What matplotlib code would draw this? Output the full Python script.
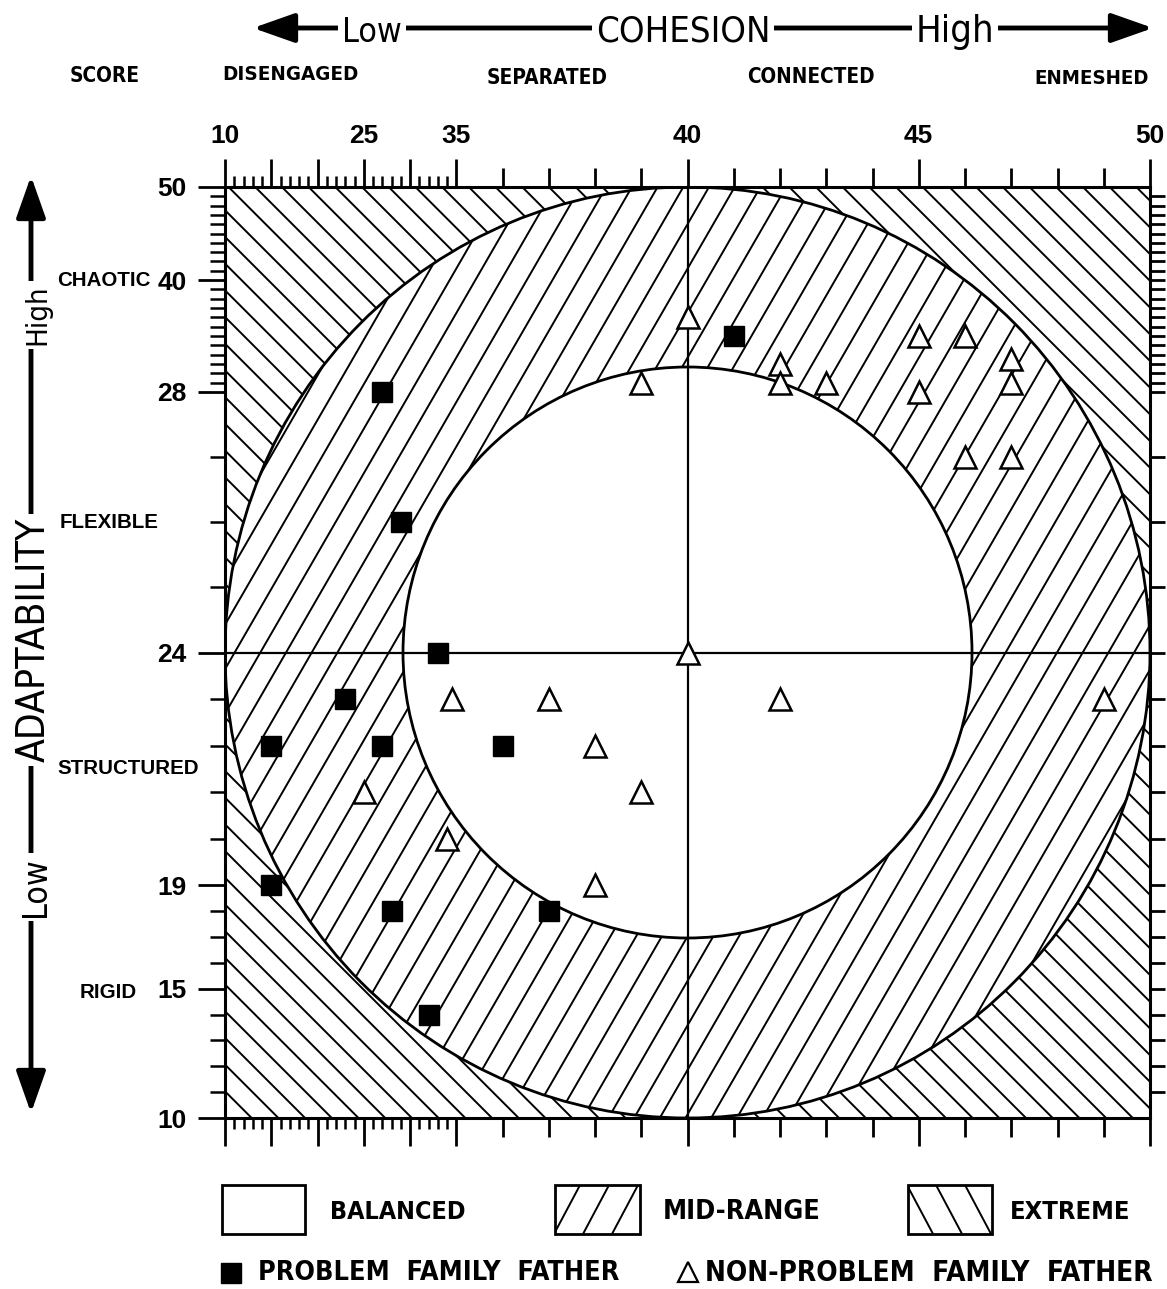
import numpy as np
import matplotlib
matplotlib.use("Agg")
import matplotlib.pyplot as plt
from matplotlib.patches import Ellipse, Rectangle
from matplotlib.collections import LineCollection
from matplotlib.transforms import Affine2D
from matplotlib.ticker import FuncFormatter

# stretched score scales of the circumplex chart (score -> grid position)
coh_score = [10, 35, 50]
coh_pos = [0, 5, 20]
ada_score = [10, 19, 24, 28, 50]
ada_pos = [0, 5, 10, 15.6, 20]

coh_labels = [10, 25, 35, 40, 45, 50]
ada_labels = [10, 15, 19, 24, 28, 40, 50]

coh_levels = ["DISENGAGED", "SEPARATED", "CONNECTED", "ENMESHED"]
ada_levels = ["CHAOTIC", "FLEXIBLE", "STRUCTURED", "RIGID"]

# problem family fathers (cohesion, adaptability)
prob_coh = [27, 29, 33, 23, 15, 27, 36, 15, 28, 37, 32, 41]
prob_ada = [28, 26, 24, 23, 22, 22, 22, 19, 18, 18, 14, 34]

# non-problem family fathers
non_coh = [40, 39, 42, 42, 43, 45, 46, 47, 47, 45, 46, 47, 40, 34.5, 37, 42, 49, 38, 39, 25, 34, 38]
non_ada = [36, 29, 31, 29, 29, 34, 34, 31.5, 29, 28, 27, 27, 24, 23, 23, 23, 23, 22, 21, 21, 20, 19]


def make_pw(xs, ys):
    xs = np.asarray(xs, float)
    ys = np.asarray(ys, float)

    def f(v):
        v = np.asarray(v, float)
        out = np.interp(v, xs, ys)
        out = np.where(v < xs[0], ys[0] + (v - xs[0]) * (ys[1] - ys[0]) / (xs[1] - xs[0]), out)
        out = np.where(v > xs[-1], ys[-1] + (v - xs[-1]) * (ys[-1] - ys[-2]) / (xs[-1] - xs[-2]), out)
        return out
    return f


coh_fns = (make_pw(coh_score, coh_pos), make_pw(coh_pos, coh_score))
ada_fns = (make_pw(ada_score, ada_pos), make_pw(ada_pos, ada_score))

narrow = ["Liberation Sans Narrow", "DejaVu Sans"]
plt.rcParams["font.family"] = ["Liberation Sans", "DejaVu Sans"]

W, H = 1167, 1289
fig = plt.figure(figsize=(W / 100, H / 100), dpi=100)

# overlay in pixel coords for the surrounding texts and legend
ov = fig.add_axes([0, 0, 1, 1], zorder=-1)
ov.set_xlim(0, W)
ov.set_ylim(H, 0)
ov.axis("off")

aw, ah = 925, 931
ax = fig.add_axes([225 / W, 1 - 1118 / H, aw / W, ah / H])
ax.set_xscale("function", functions=coh_fns)
ax.set_yscale("function", functions=ada_fns)
ax.set_xlim(10, 50)
ax.set_ylim(10, 50)
for s in ax.spines.values():
    s.set_linewidth(2.2)

px = Affine2D().scale(1 / aw, 1 / ah) + ax.transAxes

# extreme hatch "\"
segs = []
for c in np.arange(0, aw + ah + 30, 26.7):
    segs.append([(c - ah - 50, ah + 50), (c + 50, -50)])
ax.add_collection(LineCollection(segs, colors="black", linewidths=1.4, transform=px, zorder=1))

outer = Ellipse((0.5, 0.5), 1, 1, transform=ax.transAxes, fc="white", ec="none", zorder=2)
ax.add_patch(outer)

# mid-range hatch "/"
t60 = np.tan(np.radians(60))
segs = []
for c in np.arange(-ah / t60 - 30, aw + 30, 25.7):
    segs.append([(c - 30, -30 * t60), (c + (ah + 30) / t60, ah + 30)])
lc = LineCollection(segs, colors="black", linewidths=1.4, transform=px, zorder=3)
ax.add_collection(lc)
lc.set_clip_path(outer)

ax.add_patch(Ellipse((0.5, 0.5), 1, 1, transform=ax.transAxes, fc="none", ec="black", lw=2, zorder=4))
ax.add_patch(Ellipse((0.5, 0.5), 569 / aw, 571 / ah, transform=ax.transAxes,
                     fc="white", ec="black", lw=2, zorder=4))

ax.axvline(40, color="black", lw=1.6, zorder=5)
ax.axhline(24, color="black", lw=1.6, zorder=5)

ax.plot(prob_coh, prob_ada, "s", ms=15, color="black", zorder=6, clip_on=False)
ax.plot(non_coh, non_ada, "^", ms=15.5, mfc="white", mec="black", mew=1.8, zorder=6, clip_on=False)

# medium ticks (36..49) on a twin, right side ticks on another twin
axm = ax.twiny()
axm.set_xscale("function", functions=coh_fns)
axm.set_xlim(10, 50)
axm.set_xticks([i for i in range(36, 50) if i % 5])
axm.xaxis.set_major_formatter(FuncFormatter(lambda v, p: ""))
axm.tick_params(axis="x", top=True, bottom=True, labeltop=False, labelbottom=False,
                direction="out", length=13.5, width=2)
for s in axm.spines.values():
    s.set_visible(False)

axr = ax.twinx()
axr.set_yscale("function", functions=ada_fns)
axr.set_ylim(10, 50)
axr.set_yticks(range(11, 50))
axr.yaxis.set_major_formatter(FuncFormatter(lambda v, p: ""))
axr.tick_params(axis="y", right=True, left=False, labelright=False, labelleft=False,
                direction="out", length=11, width=2)
for s in axr.spines.values():
    s.set_visible(False)

# main ticks (after the twins, which reset tick sides)
ax.set_xticks(range(10, 51, 5))
ax.set_xticks([i for i in range(11, 35) if i % 5], minor=True)
ax.xaxis.set_major_formatter(FuncFormatter(lambda v, p: str(int(round(v))) if int(round(v)) in coh_labels else ""))
ax.tick_params(axis="x", which="both", top=True, bottom=True, labeltop=True, labelbottom=False, direction="out")
ax.tick_params(axis="x", which="major", length=20, width=2, pad=8, labelsize=19)
ax.tick_params(axis="x", which="minor", length=8, width=1.8)

ax.set_yticks(ada_labels)
ax.set_yticks([i for i in range(11, 50) if i not in ada_labels], minor=True)
ax.yaxis.set_major_formatter(FuncFormatter(lambda v, p: str(int(round(v)))))
ax.tick_params(axis="y", which="both", left=True, right=False, labelleft=True, labelright=False, direction="out")
ax.tick_params(axis="y", which="major", length=19.5, width=2, pad=8, labelsize=19)
ax.tick_params(axis="y", which="minor", length=11, width=1.8)
for lab in ax.get_xticklabels() + ax.get_yticklabels():
    lab.set_fontweight("bold")

fits = []  # (text, target width in px, rotated)

# cohesion header
ov.annotate("", xy=(1153, 28), xytext=(253, 28),
            arrowprops=dict(arrowstyle="<|-|>,head_length=0.85,head_width=0.3", lw=3.5,
                            color="black", shrinkA=0, shrinkB=0, mutation_scale=30))
for x, s, w in [(372, "Low", 60), (683, "COHESION", 174), (955, "High", 78)]:
    t = ov.text(x, 42, s, ha="center", va="baseline", fontsize=28, family=narrow,
                fontstretch="condensed", bbox=dict(fc="white", ec="none", pad=3))
    fits.append((t, w, False))

for x, y, s, w in [(105, 76, "SCORE", 70), (290, 75, coh_levels[0], 136), (547, 78, coh_levels[1], 121),
                   (811, 77, coh_levels[2], 128), (1092, 79, coh_levels[3], 115)]:
    t = ov.text(x, y, s, ha="center", va="center", fontsize=17, family=narrow,
                fontstretch="condensed", fontweight="bold")
    fits.append((t, w, False))

# adaptability side title
ov.annotate("", xy=(31, 176), xytext=(31, 1113),
            arrowprops=dict(arrowstyle="<|-|>,head_length=0.85,head_width=0.3", lw=3.5,
                            color="black", shrinkA=0, shrinkB=0, mutation_scale=30))
for y, s, w in [(315, "High", 60), (640, "ADAPTABILITY", 244), (887, "Low", 60)]:
    t = ov.text(45, y, s, ha="center", va="baseline", rotation=90, rotation_mode="anchor",
                fontsize=28, family=narrow, fontstretch="condensed",
                bbox=dict(fc="white", ec="none", pad=3))
    fits.append((t, w, True))

for x, y, s in [(57, 281, ada_levels[0]), (60, 522, ada_levels[1]),
                (57, 768, ada_levels[2]), (80, 993, ada_levels[3])]:
    ov.text(x, y, s, ha="left", va="center", fontsize=14.8, fontweight="bold")

# legend
t62 = np.tan(np.radians(62))
boxes = [(222, 83, None, "BALANCED", 330, 135), (555, 85, "/", "MID-RANGE", 663, 157),
         (908, 84, "\\", "EXTREME", 1010, 120)]
y0, bh = 1185, 49
for x0, bw, hatch, label, tx, w in boxes:
    r = Rectangle((x0, y0), bw, bh, fc="none", ec="black", lw=2)
    ov.add_patch(r)
    if hatch:
        segs = []
        for c in np.arange(x0 - 30, x0 + bw + 30, 29):
            if hatch == "/":
                segs.append([(c, y0 + bh), (c + bh / t62, y0)])
            else:
                segs.append([(c, y0), (c + bh / t62, y0 + bh)])
        hl = LineCollection(segs, colors="black", linewidths=1.4)
        ov.add_collection(hl)
        hl.set_clip_path(r)
    t = ov.text(tx, 1212, label, ha="left", va="center", fontsize=21, family=narrow,
                fontstretch="condensed", fontweight="bold")
    fits.append((t, w, False))

ov.plot([231], [1273], "s", ms=14, color="black")
t = ov.text(258, 1273, "PROBLEM  FAMILY  FATHER", ha="left", va="center", fontsize=21,
            family=narrow, fontstretch="condensed", fontweight="bold")
fits.append((t, 359, False))
ov.plot([688], [1272], "^", ms=14, mfc="white", mec="black", mew=1.6)
t = ov.text(705, 1273, "NON-PROBLEM  FAMILY  FATHER", ha="left", va="center", fontsize=21,
            family=narrow, fontstretch="condensed", fontweight="bold")
fits.append((t, 447, False))

# scale the fonts so each text spans the same width as in the reference
fig.canvas.draw()
rend = fig.canvas.get_renderer()
for t, w, rot in fits:
    bb = t.get_window_extent(rend)
    cur = bb.height if rot else bb.width
    t.set_fontsize(t.get_fontsize() * w / cur)

fig.savefig("out.png", dpi=100)
